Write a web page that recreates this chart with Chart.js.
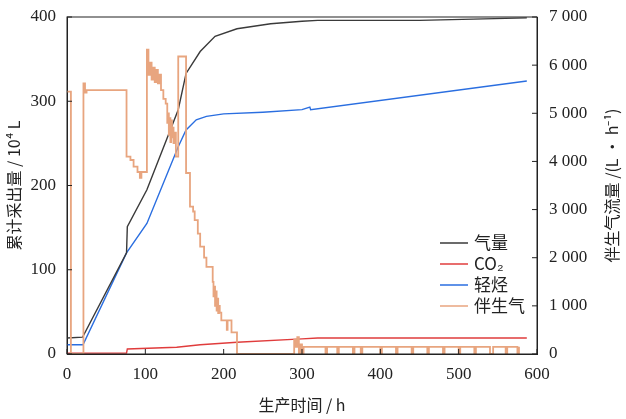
<!DOCTYPE html>
<html><head><meta charset="utf-8">
<script src="https://cdn.jsdelivr.net/npm/chart.js@4"></script>
<style>html,body{margin:0;padding:0;background:#fff}#w{width:626px;height:419px}</style>
</head><body><div id="w"><canvas id="c"></canvas></div>
<script>
const gasT = [0,20,21,76,77,102,142,152,170,189,217,260,300,320,450,587];
const gasV = [19,20,22,120,151,195,290,333,359,377,386,392,395,396,396,399];
const hcT = [0,20,21,76,102,142,152,165,178,200,250,300,310,311,587];
const hcV = [11,11,12,120,155,246,266,278,282,285,287,290,293,290,324];
const co2T = [0,76,77,140,170,217,300,320,587];
const co2V = [1,1,6,8,11,14,18,19,19];
const flowT = [0,5,21,23,25,76,81,85,90,93,95,102,104,106,108,110,112,114,116,118,120,123,126,128,129,130,131,132,133,134,135,136,137,139,142,151,152,157,161,163,167,170,175,178,185,186,187,188,189,190,191,192,193,194,195,197,200,204,205,210,217,
  290,292,294,296,298,300,302,330,332,345,347,365,367,375,377,400,402,420,422,440,442,460,462,480,482,500,502,520,522,540,544,560,562,575,577];
const flowV = [5450,0,5620,5430,5480,4100,4030,3890,3780,3660,3780,6320,5800,6050,5700,5950,5650,5900,5620,5800,5480,5300,5200,4800,5000,4550,4900,4400,4850,4500,4700,4380,4600,4100,6180,6180,3760,3060,2960,2780,2500,2230,2000,1810,1810,1500,1200,1400,1000,1300,900,1150,850,1000,860,700,700,500,700,450,0,
  300,150,350,0,200,0,150,0,150,0,150,0,150,0,150,0,150,0,150,0,150,0,150,0,150,0,150,0,150,0,150,0,150,0,150,0];
const legendLabels = ['气量','CO₂','轻烃','伴生气'];
const colors = ['#3a3a3a','#e03c3c','#2a6ee0','#e8a57f'];

const pts=(t,v)=>t.map((x,i)=>({x:x,y:v[i]}));
const serif='"Liberation Serif","Noto Sans CJK SC",serif';
const cjk='"Noto Sans CJK SC",sans-serif';
const fmt=v=>String(v).replace(/\B(?=(\d{3})+(?!\d))/g,' ');

const inTicks={id:'inTicks',afterDraw(ch){const c=ch.ctx,a=ch.chartArea;c.save();c.strokeStyle='#222';c.lineWidth=1;
 const s=ch.scales;
 s.x.ticks.forEach(t=>{const p=s.x.getPixelForValue(t.value);c.beginPath();c.moveTo(p,a.bottom);c.lineTo(p,a.bottom-5);c.stroke();});
 s.y.ticks.forEach(t=>{const p=s.y.getPixelForValue(t.value);c.beginPath();c.moveTo(a.left,p);c.lineTo(a.left+5,p);c.stroke();});
 s.y1.ticks.forEach(t=>{const p=s.y1.getPixelForValue(t.value);c.beginPath();c.moveTo(a.right,p);c.lineTo(a.right-5,p);c.stroke();});
 c.strokeRect(a.left,a.top,a.right-a.left,a.bottom-a.top);
 // right axis title, reading bottom to top
 c.save();c.translate(612,(a.top+a.bottom)/2);c.rotate(-Math.PI/2);c.fillStyle='#222';c.font='16px '+cjk;c.textAlign='center';c.textBaseline='middle';
 c.fillText('伴生气流量 /(L • h⁻¹)',0,0);c.restore();
 // legend
 const x0=440,y0=243,dy=21;
 legendLabels.forEach((l,i)=>{const y=y0+i*dy;c.strokeStyle=colors[i];c.lineWidth=1.5;c.beginPath();c.moveTo(x0,y);c.lineTo(x0+28,y);c.stroke();
  c.fillStyle='#222';c.font='17px '+cjk;c.textBaseline='middle';c.fillText(l,x0+34,y);});
 c.restore();}};

new Chart(document.getElementById('c'),{type:'line',
 data:{datasets:[
  {label:'伴生气',data:pts(flowT,flowV),yAxisID:'y1',borderColor:colors[3],borderWidth:1.8,stepped:'before',pointRadius:0},
  {label:'气量',data:pts(gasT,gasV),yAxisID:'y',borderColor:colors[0],borderWidth:1.4,pointRadius:0},
  {label:'CO₂',data:pts(co2T,co2V),yAxisID:'y',borderColor:colors[1],borderWidth:1.4,pointRadius:0},
  {label:'轻烃',data:pts(hcT,hcV),yAxisID:'y',borderColor:colors[2],borderWidth:1.4,pointRadius:0}
 ]},
 options:{responsive:true,maintainAspectRatio:false,animation:false,
  layout:{padding:{top:17,left:0,right:0,bottom:0}},
  plugins:{legend:{display:false},tooltip:{enabled:false}},
  scales:{
   x:{type:'linear',min:0,max:600,grid:{display:false},border:{color:'#222'},
      ticks:{stepSize:100,color:'#222',font:{family:serif,size:17},padding:2},
      title:{display:true,text:'生产时间 / h',color:'#222',font:{family:cjk,size:16},padding:{top:0}},
      afterFit(s){s.height=65;}},
   y:{min:0,max:400,grid:{display:false},border:{color:'#222'},
      ticks:{stepSize:100,color:'#222',font:{family:serif,size:17},padding:3},
      title:{display:true,text:'累计采出量 / 10⁴ L',color:'#222',font:{family:cjk,size:16},padding:{bottom:0}},
      afterFit(s){s.width=67;}},
   y1:{position:'right',min:0,max:7000,grid:{display:false},border:{color:'#222'},
      ticks:{stepSize:1000,color:'#222',font:{family:serif,size:17},padding:4,callback:v=>fmt(v)},
      title:{display:false},
      afterFit(s){s.width=89;}}
  }},
 plugins:[inTicks]});
</script></body></html>
